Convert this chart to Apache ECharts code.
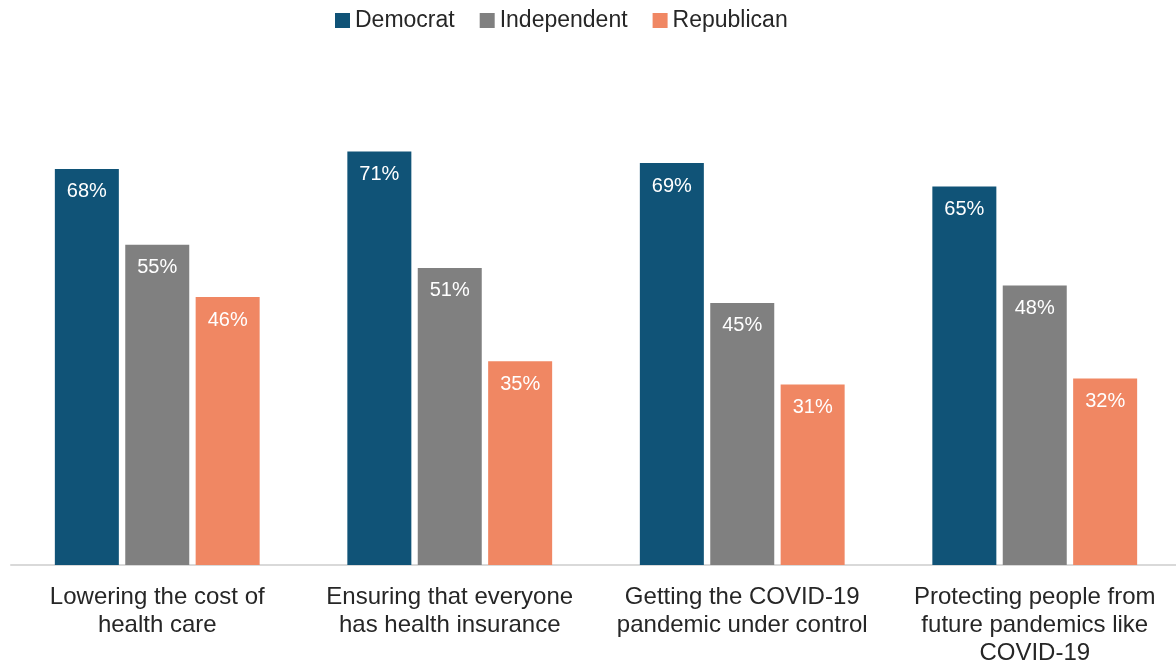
<!DOCTYPE html>
<html>
<head>
<meta charset="utf-8">
<script src="https://cdn.jsdelivr.net/npm/echarts@6/dist/echarts.min.js"></script>
<style>html,body{margin:0;padding:0;background:#fff}#c{width:1176px;height:664px}</style>
</head>
<body>
<div id="c"></div>
<script>
const categories = [
  'Lowering the cost of\nhealth care',
  'Ensuring that everyone\nhas health insurance',
  'Getting the COVID-19\npandemic under control',
  'Protecting people from\nfuture pandemics like\nCOVID-19'
];
const democrat = [68, 71, 69, 65];
const independent = [55, 51, 45, 48];
const republican = [46, 35, 31, 32];

const chart = echarts.init(document.getElementById('c'));
const font = 'Liberation Sans, Arial, sans-serif';
const lbl = {
  show: true, position: 'insideTop', distance: 13,
  color: '#fff', fontSize: 20, fontFamily: font,
  formatter: p => p.value + '%'
};
function s(name, data, color) {
  return { name, type: 'bar', data, barWidth: 64, barGap: '10%',
    itemStyle: { color }, label: lbl, emphasis: { disabled: true } };
}
chart.setOption({
  animation: false,
  textStyle: { fontFamily: font },
  legend: {
    top: 9, left: 335, itemWidth: 15, itemHeight: 15, itemGap: 25,
    icon: 'rect', padding: 0,
    textStyle: { fontSize: 23, color: '#262626', fontFamily: font },
    data: ['Democrat', 'Independent', 'Republican']
  },
  grid: { left: 11, right: -5, top: 99, bottom: 99, containLabel: false, outerBoundsMode: 'none' },
  xAxis: {
    type: 'category', data: categories,
    axisLine: { lineStyle: { color: '#d9d9d9', width: 2 } },
    axisTick: { show: false },
    axisLabel: { color: '#262626', fontSize: 24, lineHeight: 28, margin: 18, fontFamily: font, interval: 0 }
  },
  yAxis: { type: 'value', min: 0, max: 80, show: false, splitLine: { show: false } },
  series: [
    s('Democrat', democrat, '#105377'),
    s('Independent', independent, '#808080'),
    s('Republican', republican, '#F08763')
  ]
});
</script>
</body>
</html>
